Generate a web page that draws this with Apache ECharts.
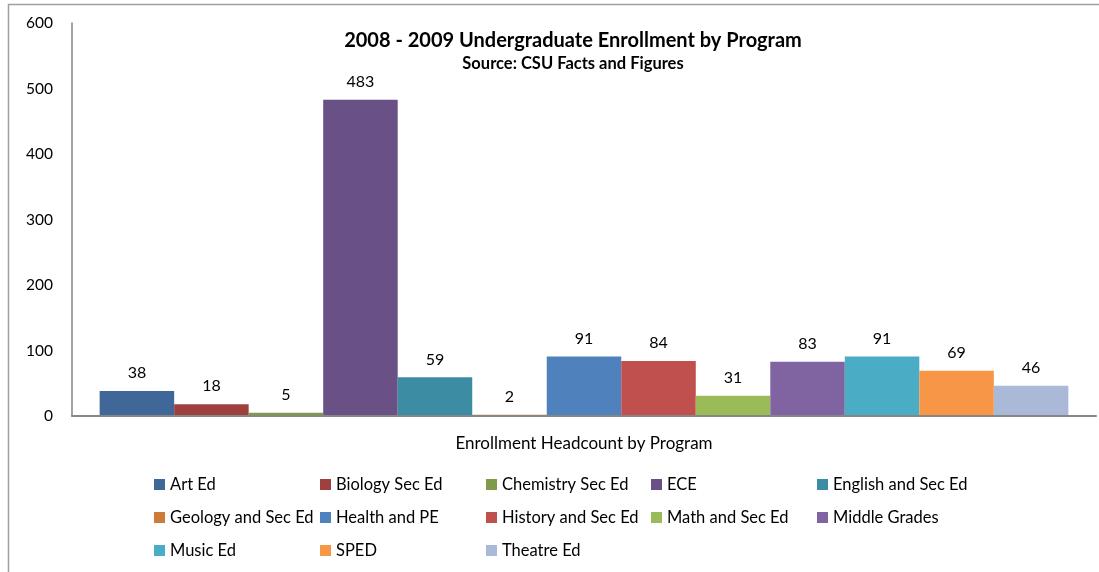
<!DOCTYPE html>
<html>
<head>
<meta charset="utf-8">
<script src="https://cdn.jsdelivr.net/npm/echarts@6/dist/echarts.min.js"></script>
<style>
  html, body { margin: 0; padding: 0; background: #fff; }
  #chart { width: 1099px; height: 572px; }
</style>
</head>
<body>
<div id="chart"></div>
<script>
// 数据
const categories = ['Enrollment Headcount by Program'];
const programs = ['Art Ed', 'Biology Sec Ed', 'Chemistry Sec Ed', 'ECE', 'English and Sec Ed',
  'Geology and Sec Ed', 'Health and PE', 'History and Sec Ed', 'Math and Sec Ed', 'Middle Grades',
  'Music Ed', 'SPED', 'Theatre Ed'];
const headcount = [38, 18, 5, 483, 59, 2, 91, 84, 31, 83, 91, 69, 46];
const yTicks = [0, 100, 200, 300, 400, 500, 600];

const colors = ['#3F6797', '#9E413E', '#7F9A48', '#695185', '#3C8DA3',
  '#CC7B38', '#4F81BD', '#C0504D', '#9BBB59', '#8064A2',
  '#4BACC6', '#F79646', '#A9B9D7'];

// 图例按列分组（5列）
const legendCols = [
  ['Art Ed', 'Geology and Sec Ed', 'Music Ed'],
  ['Biology Sec Ed', 'Health and PE', 'SPED'],
  ['Chemistry Sec Ed', 'History and Sec Ed', 'Theatre Ed'],
  ['ECE', 'Math and Sec Ed'],
  ['English and Sec Ed', 'Middle Grades']
];
const legendLeft = [154, 320, 486, 651, 817];

const font = 'Lato, "Open Sans", sans-serif';

let myChart = echarts.init(document.getElementById('chart'));

let option = {
  animation: false,
  color: colors,
  textStyle: { fontFamily: font },
  title: {
    text: '2008 - 2009 Undergraduate Enrollment by Program',
    subtext: 'Source: CSU Facts and Figures',
    left: 568,
    textAlign: 'center',
    top: 26,
    itemGap: 4,
    textStyle: { fontSize: 20, fontWeight: 'bold', color: '#000', fontFamily: font },
    subtextStyle: { fontSize: 16.5, fontWeight: 'bold', color: '#000', fontFamily: font }
  },
  legend: legendCols.map((col, i) => ({
    data: col,
    orient: 'vertical',
    left: legendLeft[i],
    top: 475,
    padding: 0,
    itemWidth: 11,
    itemHeight: 11,
    itemGap: 14,
    icon: 'rect',
    selectedMode: false,
    textStyle: { fontSize: 16.5, color: '#000', lineHeight: 19, padding: [0, 0, 0, 0], fontFamily: font }
  })),
  grid: { left: 72, right: 3, top: 23, bottom: 156, containLabel: false },
  xAxis: {
    type: 'category',
    data: categories,
    z: 3,
    axisLine: { lineStyle: { color: '#868686', width: 2 } },
    axisTick: { show: false },
    axisLabel: { color: '#000', fontSize: 17, margin: 19, fontFamily: font }
  },
  yAxis: {
    type: 'value',
    min: yTicks[0],
    max: yTicks[yTicks.length - 1],
    interval: 100,
    splitLine: { show: false },
    axisLine: { show: true, lineStyle: { color: '#868686', width: 1.5 } },
    axisTick: { show: false },
    axisLabel: { color: '#000', fontSize: 15.5, margin: 19, fontFamily: font }
  },
  graphic: [{
    type: 'rect',
    shape: { x: 8.5, y: 4.5, width: 1200, height: 700 },
    style: { fill: 'none', stroke: '#a0a0a0', lineWidth: 1.5 },
    silent: true
  }],
  series: programs.map((name, i) => ({
    name: name,
    type: 'bar',
    data: [headcount[i]],
    barGap: '0%',
    barCategoryGap: '5.4%',
    label: { show: true, position: 'top', distance: 10, color: '#000', fontSize: 16, fontFamily: font }
  }))
};

myChart.setOption(option);
</script>
</body>
</html>
